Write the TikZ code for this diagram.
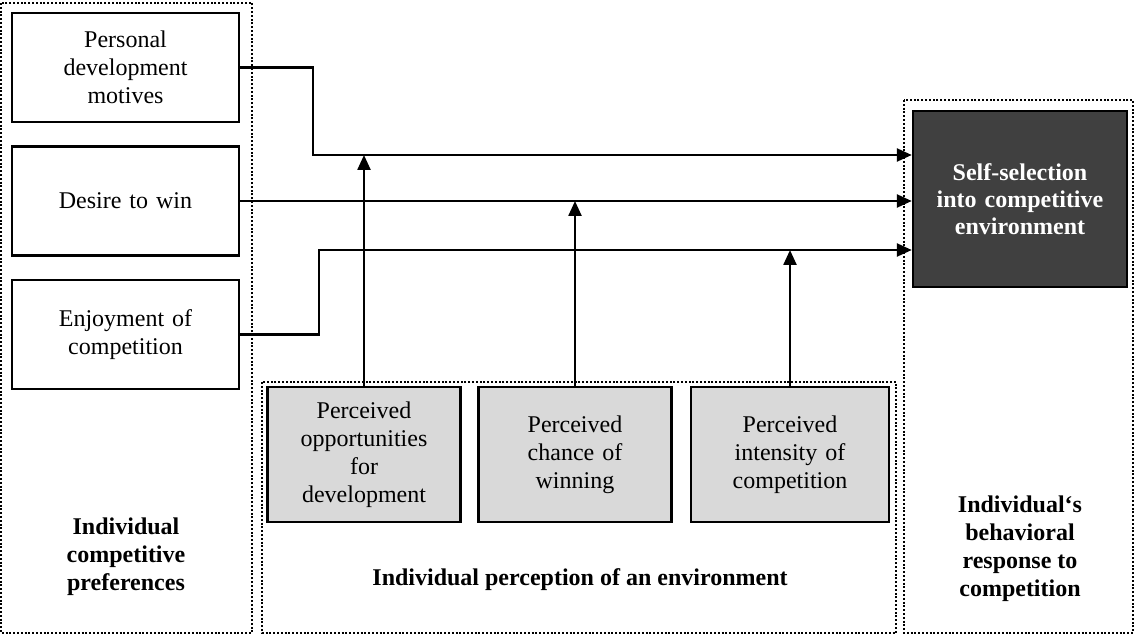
\documentclass[tikz,border=0pt]{standalone}
\usepackage{fontspec}
\setmainfont{Liberation Serif}
\usepackage{tikz}
\usetikzlibrary{arrows.meta}
\tikzstyle{motive} = [rectangle, minimum width=113.5pt, minimum height=54.5pt, text width=105pt, align=center, draw=black, line width=1.2pt, font=\fontsize{12pt}{14pt}\selectfont]
\tikzstyle{percept} = [rectangle, minimum width=95pt, minimum height=67.5pt, text width=90pt, align=center, draw=black, line width=1.2pt, fill=black!15, font=\fontsize{12pt}{14pt}\selectfont]
\tikzstyle{outcome} = [rectangle, minimum width=107pt, minimum height=88pt, text width=100pt, align=center, draw=black, line width=1.2pt, fill=black!75, text=white, font=\bfseries\fontsize{12pt}{13.5pt}\selectfont]
\tikzstyle{grouplabel} = [align=center, font=\bfseries\fontsize{12pt}{14pt}\selectfont]
\tikzstyle{frame} = [line width=1pt, dash pattern=on 1pt off 0.9pt]
\tikzstyle{arrow} = [line width=1.2pt, -{Triangle[length=7.5pt, width=6.5pt]}]
\tikzstyle{line} = [line width=1.2pt]

\begin{document}
\begin{tikzpicture}[node distance=66.75pt]

\useasboundingbox (0,0) rectangle (568pt,-318pt);

\draw [frame] (0.5pt,-1.5pt) rectangle (126pt,-316.5pt);
\draw [frame] (131pt,-191pt) rectangle (448pt,-316.5pt);
\draw [frame] (452pt,-50pt) rectangle (566.5pt,-316.5pt);

\node (pdm) [motive] at (62.75pt,-33.75pt) {Personal\\development\\motives};
\node (dtw) [motive, below of=pdm] {Desire to win};
\node (eoc) [motive, below of=dtw] {Enjoyment of\\competition};
\node (pod) [percept, minimum width=95pt] at (182pt,-227.25pt) {Perceived\\opportunities\\for\\development};
\node (pcw) [percept, right of=pod, xshift=38.75pt] {Perceived\\chance of\\winning};
\node (pic) [percept, minimum width=99pt, right of=pcw, xshift=40.75pt] {Perceived\\intensity of\\competition};
\node (self) [outcome] at (510pt,-99.5pt) {Self-selection\\into competitive\\environment};

\node (icp) [grouplabel] at (63pt,-278.5pt) {Individual\\competitive\\preferences};
\node (iper) [grouplabel] at (290pt,-290pt) {Individual perception of an environment};
\node (ibr) [grouplabel] at (510pt,-274.5pt) {Individual‘s\\behavioral\\response to\\competition};

\coordinate (in1) at ([yshift=22pt]self.west);
\coordinate (in3) at ([yshift=-25.5pt]self.west);

\draw [arrow] (pdm.east) -- ++(36.5pt,0) |- (in1);
\draw [arrow] (dtw.east) -- (dtw.east -| self.west);
\draw [arrow] (eoc.east) -- ++(39.5pt,0) |- (in3);
\draw [arrow] (pod.north) -- (pod.north |- in1);
\draw [arrow] (pcw.north) -- (pcw.north |- dtw.east);
\draw [arrow] (pic.north) -- (pic.north |- in3);

\end{tikzpicture}
\end{document}
